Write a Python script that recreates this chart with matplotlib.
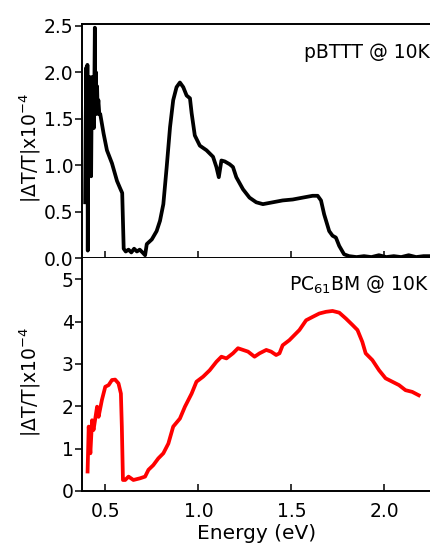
import matplotlib
matplotlib.use("Agg")
import matplotlib.pyplot as plt

# pBTTT @ 10K (top panel)
e_top = [0.392, 0.395, 0.398, 0.401, 0.404, 0.406, 0.409, 0.412, 0.415, 0.418,
         0.421, 0.424, 0.427, 0.430, 0.433, 0.436, 0.439, 0.442, 0.444, 0.447,
         0.450, 0.453, 0.456, 0.459, 0.463, 0.468, 0.473, 0.491, 0.509, 0.536,
         0.563, 0.580, 0.591, 0.599, 0.610, 0.625, 0.640, 0.655, 0.670, 0.685,
         0.700, 0.714, 0.723, 0.750, 0.776, 0.794, 0.812, 0.830, 0.848, 0.865,
         0.883, 0.901, 0.919, 0.937, 0.955, 0.964, 0.981, 1.008, 1.044, 1.079,
         1.097, 1.110, 1.124, 1.142, 1.168, 1.186, 1.204, 1.240, 1.275, 1.311,
         1.347, 1.400, 1.453, 1.507, 1.560, 1.614, 1.641, 1.659, 1.676, 1.703,
         1.721, 1.739, 1.757, 1.783, 1.810, 1.850, 1.890, 1.930, 1.970, 2.010,
         2.050, 2.090, 2.130, 2.170, 2.210, 2.250]
v_top = [0.60, 1.50, 2.05, 1.20, 2.08, 0.08, 1.90, 1.50, 1.95, 1.00,
         1.85, 0.88, 1.70, 1.95, 1.50, 1.80, 1.40, 2.00, 2.48, 1.60,
         2.00, 1.55, 1.85, 1.60, 1.70, 1.55, 1.55, 1.34, 1.16, 1.02,
         0.83, 0.75, 0.70, 0.10, 0.07, 0.09, 0.06, 0.10, 0.07, 0.09,
         0.06, 0.03, 0.15, 0.20, 0.29, 0.40, 0.58, 0.98, 1.41, 1.70,
         1.84, 1.89, 1.84, 1.75, 1.72, 1.56, 1.32, 1.21, 1.16, 1.09,
         0.98, 0.87, 1.05, 1.04, 1.01, 0.98, 0.87, 0.74, 0.65, 0.60,
         0.58, 0.60, 0.62, 0.63, 0.65, 0.67, 0.67, 0.62, 0.47, 0.29,
         0.24, 0.22, 0.13, 0.04, 0.02, 0.01, 0.02, 0.01, 0.03, 0.01,
         0.02, 0.01, 0.03, 0.01, 0.02, 0.02]

# PC61BM @ 10K (bottom panel)
e_bot = [0.405, 0.411, 0.420, 0.429, 0.437, 0.456, 0.464, 0.482, 0.500, 0.518,
         0.536, 0.553, 0.571, 0.584, 0.589, 0.595, 0.607, 0.625, 0.651, 0.687,
         0.714, 0.732, 0.758, 0.785, 0.812, 0.839, 0.865, 0.901, 0.928, 0.964,
         0.990, 1.026, 1.061, 1.097, 1.124, 1.151, 1.186, 1.213, 1.240, 1.267,
         1.302, 1.329, 1.365, 1.391, 1.418, 1.436, 1.453, 1.489, 1.516, 1.543,
         1.579, 1.614, 1.650, 1.686, 1.721, 1.757, 1.793, 1.828, 1.855, 1.881,
         1.899, 1.935, 1.971, 2.006, 2.042, 2.078, 2.113, 2.149, 2.184]
v_bot = [0.46, 1.52, 0.89, 1.67, 1.44, 1.99, 1.75, 2.15, 2.46, 2.50,
         2.62, 2.63, 2.54, 2.30, 1.52, 0.26, 0.26, 0.34, 0.26, 0.30,
         0.34, 0.50, 0.61, 0.77, 0.89, 1.12, 1.52, 1.71, 1.99, 2.30,
         2.58, 2.70, 2.85, 3.05, 3.17, 3.13, 3.25, 3.37, 3.33, 3.29,
         3.17, 3.25, 3.33, 3.29, 3.21, 3.25, 3.44, 3.56, 3.68, 3.80,
         4.03, 4.11, 4.19, 4.23, 4.25, 4.21, 4.07, 3.92, 3.80, 3.52,
         3.25, 3.09, 2.85, 2.66, 2.58, 2.50, 2.38, 2.34, 2.26]

x_ticks = [0.5, 1.0, 1.5, 2.0]
y_ticks_top = [0.0, 0.5, 1.0, 1.5, 2.0, 2.5]
y_ticks_bot = [0, 1, 2, 3, 4, 5]

plt.rcParams['font.family'] = ['DejaVu Sans']
FS = 13.5

fig = plt.figure(figsize=(4.31, 5.46), dpi=100)
W, H = 431.0, 546.0
left = 82 / W
ax1 = fig.add_axes([left, 1 - 258 / H, 1 - left, (258 - 24) / H])
ax2 = fig.add_axes([left, 1 - 491 / H, 1 - left, (491 - 258) / H])

ax1.plot(e_top, v_top, color='black', lw=2.7, solid_joinstyle='round')
ax2.plot(e_bot, v_bot, color='#ff0000', lw=2.7, solid_joinstyle='round')

for ax in (ax1, ax2):
    ax.set_xlim(0.375, 2.25)
    ax.set_xticks(x_ticks)
    ax.spines['right'].set_visible(False)
    for s in ('left', 'bottom', 'top'):
        ax.spines[s].set_linewidth(1.4)
    ax.tick_params(axis='x', direction='in', length=5, width=1.1, labelsize=FS, pad=8)
    ax.tick_params(axis='y', direction='out', length=5, width=1.1, labelsize=FS, pad=1)

ax1.set_ylim(0, 2.52)
ax1.set_yticks(y_ticks_top)
ax1.set_yticklabels([f"{t:.1f}" for t in y_ticks_top])
ax1.tick_params(axis='x', labelbottom=False)

ax2.set_ylim(0, 5.5)
ax2.set_yticks(y_ticks_bot)
ax2.spines['top'].set_visible(False)
ax2.set_xticklabels([f"{t:.1f}" for t in x_ticks])

ylab = r'|$\Delta$T/T|x10$^{-4}$'
ax1.set_ylabel(ylab, fontsize=FS)
ax2.set_ylabel(ylab, fontsize=FS)
ax1.yaxis.set_label_coords(-0.112, 0.47)
ax2.yaxis.set_label_coords(-0.112, 0.47)
ax2.set_xlabel('Energy (eV)', fontsize=14.5, labelpad=2)

ax1.text(0.995, 0.88, 'pBTTT @ 10K', transform=ax1.transAxes, ha='right', va='center', fontsize=FS)
ax2.text(0.995, 0.884, r'PC$_{61}$BM @ 10K', transform=ax2.transAxes, ha='right', va='center', fontsize=FS)

fig.savefig('out.png', dpi=100)
